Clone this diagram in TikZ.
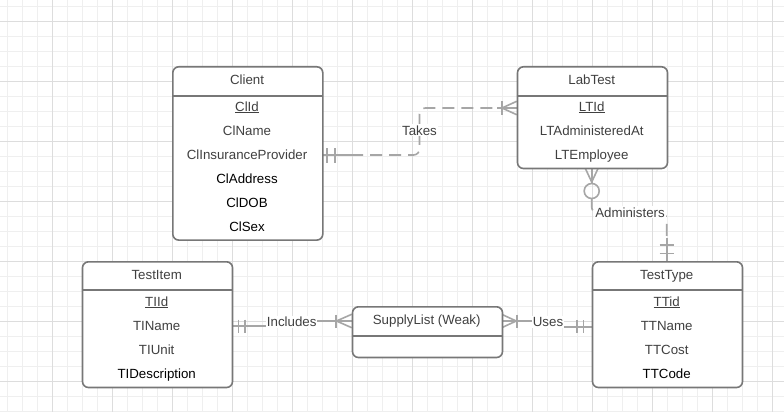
\documentclass[tikz,border=0pt]{standalone}
\usepackage{fontspec}
\setmainfont{Liberation Sans}
\definecolor{gridminor}{HTML}{EFEFEF}
\definecolor{gridmajor}{HTML}{DDDDDD}
\definecolor{boxgray}{HTML}{777777}
\definecolor{linegray}{HTML}{A6A6A6}
\definecolor{txtgray}{HTML}{404040}
\tikzset{
  entity/.style={draw=boxgray, line width=1.6pt, rounded corners=6pt, fill=white,
                 inner sep=0pt, minimum width=150pt, anchor=north west},
  sepline/.style={draw=boxgray, line width=1.6pt},
  attr/.style={font=\fontsize{13.3}{16}\selectfont, text=txtgray, anchor=base, inner sep=0pt},
  battr/.style={attr, text=black},
  rel/.style={draw=linegray, line width=1.6pt},
  reldash/.style={rel, dash pattern=on 12pt off 7pt},
  rellabel/.style={font=\fontsize{13.3}{16}\selectfont, text=txtgray, fill=white,
                   inner sep=1pt, anchor=base}
}
\begin{document}
\begin{tikzpicture}[x=1pt,y=-1pt]
\useasboundingbox (0,0) rectangle (784,412);
\fill[white] (0,0) rectangle (784,412);
% grid
\begin{scope}
\clip (0,0) rectangle (784,412);
\foreach \x in {7.3,22.3,...,790} \draw[gridminor, line width=0.9pt] (\x,0) -- (\x,412);
\foreach \y in {6.7,21.7,...,420} \draw[gridminor, line width=0.9pt] (0,\y) -- (784,\y);
\foreach \x in {52.3,112.3,...,790} \draw[gridmajor, line width=0.9pt] (\x,0) -- (\x,412);
\foreach \y in {21.7,81.7,...,420} \draw[gridmajor, line width=0.9pt] (0,\y) -- (784,\y);
\end{scope}

% ---------- connectors ----------
% Takes
\coordinate (takesA) at (322,155);
\coordinate (takesB) at (516.7,108);
\draw[rel] (takesA) -- (351,155);
\draw[reldash, rounded corners=6pt] (351,155) -- (419.5,155) -- (419.5,108) -- (497,108);
\draw[rel] (497,108) -- (takesB);
\draw[rel] (327,148) -- (327,162.5);
\draw[rel] (335,148) -- (335,162.5);
\draw[rel] (501.7,101) -- (501.7,115);
\draw[rel] (516.7,101.3) -- (502,108) -- (516.7,114.7);
\node[rellabel] (takes) at (419.5,135) {Takes};

% Administers
\coordinate (admA) at (591.7,167.7);
\coordinate (admB) at (666.7,261);
\draw[rel] (585,167.7) -- (591.7,182) -- (598.4,167.7);
\draw[rel] (admA) -- (591.7,183.5);
\draw[rel] (591.7,191) circle[radius=7.5];
\draw[reldash, rounded corners=6pt] (591.7,198.5) -- (591.7,213) -- (666.7,213) -- (666.7,240);
\draw[rel] (666.7,238) -- (admB);
\draw[rel] (659.7,245) -- (673.7,245);
\draw[rel] (659.7,253.3) -- (673.7,253.3);
\node[rellabel] (administers) at (630,217) {Administers};

% Includes
\coordinate (incA) at (231.7,326);
\coordinate (incB) at (351.7,321);
\draw[rel] (incA) -- (291.7,326) -- (291.7,321) -- (incB);
\draw[rel] (238.3,319.5) -- (238.3,332.5);
\draw[rel] (245,319.5) -- (245,332.5);
\draw[rel] (336,314.5) -- (336,327.5);
\draw[rel] (351.7,314.3) -- (336.5,321) -- (351.7,327.7);
\node[rellabel] (includes) at (291.7,326.5) {Includes};

% Uses
\coordinate (usesA) at (501.7,321);
\coordinate (usesB) at (591.7,326.7);
\draw[rel] (usesA) -- (548,321) -- (548,326.7) -- (usesB);
\draw[rel] (501.7,314.3) -- (516.2,321) -- (501.7,327.7);
\draw[rel] (516.7,314.5) -- (516.7,327.5);
\draw[rel] (576.7,320) -- (576.7,333.3);
\draw[rel] (583.3,320) -- (583.3,333.3);
\node[rellabel] (uses) at (548,326.5) {Uses};

% ---------- entities ----------
% Client
\node[entity, minimum height=173.3pt] (client) at (172,66) {};
\draw[sepline] (client.north west) ++(0,30) -- ++(150,0);
\node[attr] (clt) at (247,84.3) {Client};
\node[attr] (cl1) at (247,111) {\underline{ClId}};
\node[attr] (cl2) at (247,135) {ClName};
\node[attr] (cl3) at (247,159) {ClInsuranceProvider};
\node[battr] (cl4) at (247,183) {ClAddress};
\node[battr] (cl5) at (247,207) {ClDOB};
\node[battr] (cl6) at (247,231) {ClSex};

% LabTest
\node[entity, minimum height=101.7pt] (labtest) at (516.7,66) {};
\draw[sepline] (labtest.north west) ++(0,30) -- ++(150,0);
\node[attr] (ltt) at (591.7,84.3) {LabTest};
\node[attr] (lt1) at (591.7,111) {\underline{LTId}};
\node[attr] (lt2) at (591.7,135) {LTAdministeredAt};
\node[attr] (lt3) at (591.7,159) {LTEmployee};

% TestItem
\node[entity, minimum height=125.7pt] (testitem) at (81.7,261) {};
\draw[sepline] (testitem.north west) ++(0,29) -- ++(150,0);
\node[attr] (tit) at (156.7,279.5) {TestItem};
\node[attr] (ti1) at (156.7,306) {\underline{TIId}};
\node[attr] (ti2) at (156.7,330.5) {TIName};
\node[attr] (ti3) at (156.7,354.5) {TIUnit};
\node[battr] (ti4) at (156.7,378.5) {TIDescription};

% TestType
\node[entity, minimum height=125.7pt] (testtype) at (591.7,261) {};
\draw[sepline] (testtype.north west) ++(0,29) -- ++(150,0);
\node[attr] (ttt) at (666.7,279.5) {TestType};
\node[attr] (tt1) at (666.7,306) {\underline{TTid}};
\node[attr] (tt2) at (666.7,330.5) {TTName};
\node[attr] (tt3) at (666.7,354.5) {TTCost};
\node[battr] (tt4) at (666.7,378.5) {TTCode};

% SupplyList
\node[entity, minimum height=50.7pt] (supply) at (351.7,306) {};
\draw[sepline] (supply.north west) ++(0,29.7) -- ++(150,0);
\node[attr] (slt) at (426.7,324.5) {SupplyList (Weak)};
\end{tikzpicture}
\end{document}
